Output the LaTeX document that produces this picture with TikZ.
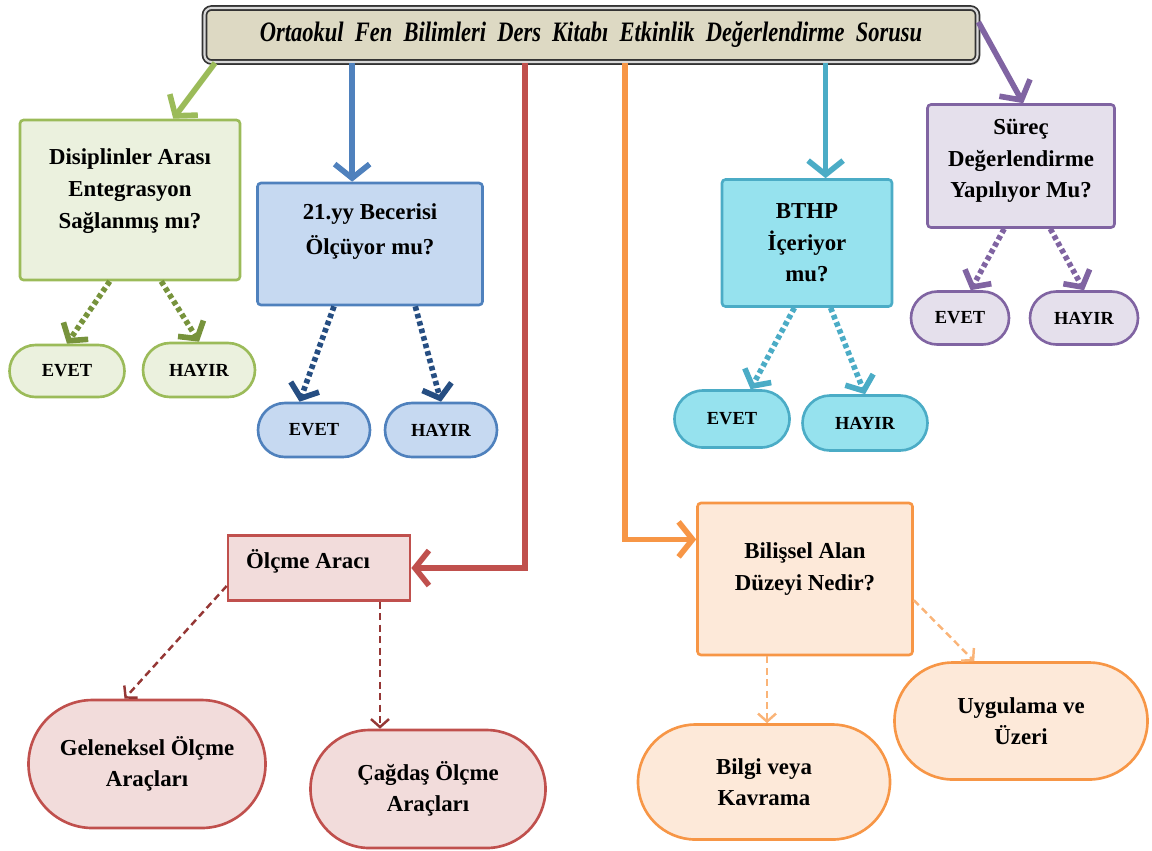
\documentclass[tikz,border=0pt]{standalone}
\usepackage{fontspec}
\setmainfont{Liberation Serif}
\newfontfamily\titlefont[FakeStretch=0.8]{Liberation Serif}
\usetikzlibrary{positioning,arrows.meta,shapes.misc,shadows}
\definecolor{olive-line}{RGB}{155,187,89}
\definecolor{olive-dark}{RGB}{119,147,60}
\definecolor{olive-fill}{RGB}{235,241,222}
\definecolor{steel-line}{RGB}{79,129,189}
\definecolor{steel-dark}{RGB}{38,78,130}
\definecolor{steel-fill}{RGB}{198,217,241}
\definecolor{brick-line}{RGB}{192,80,77}
\definecolor{brick-dark}{RGB}{149,55,53}
\definecolor{brick-fill}{RGB}{242,220,219}
\definecolor{amber-line}{RGB}{247,150,70}
\definecolor{amber-soft}{RGB}{250,180,120}
\definecolor{amber-fill}{RGB}{253,233,217}
\definecolor{teal-line}{RGB}{75,172,198}
\definecolor{teal-fill}{RGB}{150,226,238}
\definecolor{plum-line}{RGB}{128,100,162}
\definecolor{plum-fill}{RGB}{229,224,236}
\definecolor{title-fill}{RGB}{221,217,195}

\begin{document}
\begin{tikzpicture}[x=0.02cm, y=-0.02cm,
    wh/.style 2 args={minimum width=#1*0.02cm, minimum height=#2*0.02cm},
    qbox/.style={draw=#1-line, fill=#1-fill, line width=1.5pt, rounded corners=2pt, inner sep=0pt},
    pill/.style={rounded rectangle, draw=#1-line, fill=#1-fill, line width=1.5pt, inner sep=0pt,
        font=\bfseries\fontsize{10.5}{12}\selectfont},
    tx/.style={font=\bfseries\fontsize{13}{18}\selectfont, align=center, inner sep=0pt},
    main/.style={draw=#1-line, line width=3.2pt, -{Straight Barb[length=2.8mm,width=7mm]}},
    dots/.style={draw=#1, line width=3.2pt, dash pattern=on 2.6pt off 1.8pt,
        -{Straight Barb[length=2.4mm,width=6mm]}},
    fine/.style={draw=#1, line width=1.4pt, dash pattern=on 4pt off 2.5pt,
        -{Straight Barb[length=1.6mm,width=3.6mm]}}]
    \useasboundingbox (0,0) rectangle (1152,850);
    % Title
    \node[draw=black!80, double=black!15, double distance=1.2pt, line width=1pt, fill=title-fill,
        rounded corners=4pt, wh={773}{54}, drop shadow={opacity=0.3, shadow xshift=1.5pt, shadow yshift=-1.5pt}]
        (title) at (591,35)
        {\titlefont\bfseries\itshape\fontsize{16}{18}\selectfont Ortaokul\ \ Fen\ \ Bilimleri\ \ Ders\ \ Kitabı\ \ Etkinlik\ \ Değerlendirme\ \ Sorusu};
    % Disiplinler arasi
    \node[qbox=olive, wh={220}{160}] (dis) at (130,200) {};
    \node[tx] (disT) at ([yshift=0.18cm]dis.center) {Disiplinler Arası\\Entegrasyon\\Sağlanmış mı?};
    \node[pill=olive, wh={115}{52}] (disE) at (67,371) {EVET};
    \node[pill=olive, wh={112}{54}] (disH) at (199,370) {HAYIR};
    % 21.yy becerisi
    \node[qbox=steel, wh={225}{122}] (bec) at (370,244) {};
    \node[tx] (becT) at ([yshift=0.25cm]bec.center) {21.yy Becerisi\\[2pt]Ölçüyor mu?};
    \node[pill=steel, wh={112}{54}] (becE) at (314,430) {EVET};
    \node[pill=steel, wh={112}{54}] (becH) at (441,430) {HAYIR};
    % BTHP
    \node[qbox=teal, wh={170}{127}] (bthp) at (807,243) {};
    \node[tx] (bthpT) at (bthp.center) {BTHP\\İçeriyor\\mu?};
    \node[pill=teal, wh={115}{57}] (bthpE) at (732,419) {EVET};
    \node[pill=teal, wh={125}{55}] (bthpH) at (865,423) {HAYIR};
    % Surec degerlendirme
    \node[qbox=plum, wh={187}{123}] (sur) at (1021,166) {};
    \node[tx] (surT) at ([yshift=0.1cm]sur.center) {Süreç\\Değerlendirme\\Yapılıyor Mu?};
    \node[pill=plum, wh={98}{53}] (surE) at (960,318) {EVET};
    \node[pill=plum, wh={108}{53}] (surH) at (1084,318) {HAYIR};
    % Olcme araci
    \node[qbox=brick, rounded corners=0pt, wh={182}{65}] (olc) at (319,568) {};
    \node[tx] (olcT) at ([xshift=-0.22cm, yshift=0.14cm]olc.center) {Ölçme Aracı};
    \node[pill=brick, tx, wh={237}{128}] (gel) at (147,764) {Geleneksel Ölçme\\Araçları};
    \node[pill=brick, tx, wh={235}{118}] (cag) at (428,789) {Çağdaş Ölçme\\Araçları};
    % Bilissel alan
    \node[qbox=amber, wh={215}{152}] (bil) at (805,579) {};
    \node[tx] (bilT) at ([yshift=0.2cm]bil.center) {Bilişsel Alan\\Düzeyi Nedir?};
    \node[pill=amber, tx, wh={252}{115}] (bilg) at (764,782) {Bilgi veya\\Kavrama};
    \node[pill=amber, tx, wh={253}{117}] (uyg) at (1021,721) {Uygulama ve\\Üzeri};
    % Arrows from the title
    \draw[main=olive] ([xshift=-7.52cm]title.south) -- (dis.62);
    \draw[main=steel] (title.south -| bec.106) -- (bec.106);
    \draw[main=teal] (title.south -| bthp.74) -- (bthp.74);
    \draw[main=plum] ([yshift=0.26cm]title.east) -- (sur.88);
    \draw[main=brick] ([xshift=-1.32cm]title.south) |- (olc.east);
    \draw[main=amber] ([xshift=0.68cm]title.south) |- (bil.160);
    % Answers
    \draw[dots=olive-dark] (dis.256) -- (disE.north);
    \draw[dots=olive-dark] (dis.291) -- (disH.north);
    \draw[dots=steel-dark] (bec.240) -- (becE.117);
    \draw[dots=steel-dark] (bec.306) -- (becH.north);
    \draw[dots=teal-line] (bthp.259) -- (bthpE.58);
    \draw[dots=teal-line] (bthp.290) -- (bthpH.north);
    \draw[dots=plum-line] (sur.255) -- (surE.69);
    \draw[dots=plum-line] (sur.295) -- (surH.north);
    \draw[fine=brick-dark] (olc.191) -- (gel.109);
    \draw[fine=brick-dark] ([xshift=1.22cm]olc.south) coordinate (o1) -- (o1 |- cag.north);
    \draw[fine=amber-soft] ([xshift=-0.76cm]bil.south) coordinate (b1) -- (b1 |- bilg.north);
    \draw[fine=amber-soft] (bil.349) -- (uyg.128);
\end{tikzpicture}
\end{document}
